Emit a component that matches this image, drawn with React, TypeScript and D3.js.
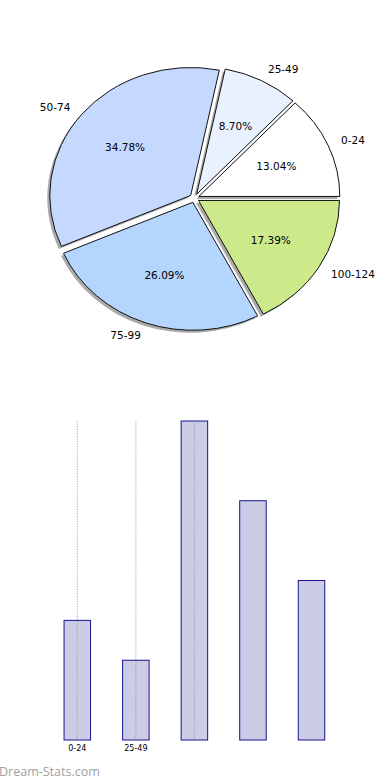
import React from 'react'
import * as d3 from 'd3'

// age groups and how many fall in each
const groups = ['0-24', '25-49', '50-74', '75-99', '100-124']
const counts = [3, 2, 8, 6, 4]
const sliceColors = ['#ffffff', '#eaf1fe', '#c5d9fe', '#b4d5fe', '#cdea8b']
const tickLabels = ['0-24', '25-49']
const gridCount = 3

const W = 390
const H = 780

const PieChart: React.FC = () => {
  const cx = 194.4
  const cy = 198.2
  const rx = 141
  const ry = 128
  const explode = 0.034
  const total = d3.sum(counts)

  // matplotlib-style: counter-clockwise from 3 o'clock
  const slices = d3.pie<number>().sort(null).startAngle(0).endAngle(2 * Math.PI)(counts)
  const arc = d3.arc<any>().innerRadius(0).outerRadius(1)

  const items = slices.map((s, i) => {
    const t1 = s.startAngle
    const t2 = s.endAngle
    const mid = (t1 + t2) / 2
    const vx = cx + explode * rx * Math.cos(mid)
    const vy = cy - explode * ry * Math.sin(mid)
    const d = arc({ startAngle: Math.PI / 2 - t2, endAngle: Math.PI / 2 - t1 }) as string
    return {
      i,
      d,
      vx,
      vy,
      px: vx + 0.6 * rx * Math.cos(mid),
      py: vy - 0.6 * ry * Math.sin(mid),
      lx: vx + 1.1 * rx * Math.cos(mid),
      ly: vy - 1.1 * ry * Math.sin(mid),
      anchor: Math.cos(mid) >= 0 ? 'start' : 'end',
      pct: ((counts[i] / total) * 100).toFixed(2) + '%',
    }
  })

  return (
    <g>
      {items.map((it) => (
        <path
          key={'sh' + it.i}
          d={it.d}
          transform={`translate(${it.vx - 2.5},${it.vy + 2.5}) scale(${rx},${ry})`}
          fill="#555"
          opacity={0.5}
        />
      ))}
      {items.map((it) => (
        <path
          key={'w' + it.i}
          d={it.d}
          transform={`translate(${it.vx},${it.vy}) scale(${rx},${ry})`}
          fill={sliceColors[it.i]}
          stroke="#111"
          strokeWidth={1}
          vectorEffect="non-scaling-stroke"
          strokeLinejoin="round"
        />
      ))}
      {items.map((it) => (
        <text
          key={'p' + it.i}
          x={it.px}
          y={it.py}
          textAnchor="middle"
          dominantBaseline="central"
          fontSize={10.5}
          fontFamily="DejaVu Sans"
          fill="#000"
        >
          {it.pct}
        </text>
      ))}
      {items.map((it) => (
        <text
          key={'l' + it.i}
          x={it.lx}
          y={it.ly}
          textAnchor={it.anchor}
          dominantBaseline="central"
          fontSize={10.5}
          fontFamily="DejaVu Sans"
          fill="#000"
        >
          {groups[it.i]}
        </text>
      ))}
    </g>
  )
}

const BarChart: React.FC = () => {
  const x = d3.scalePoint<string>().domain(groups).range([77.3, 311.5])
  const y = d3.scaleLinear().domain([0, 8]).range([740, 421])
  const bw = 26.5

  return (
    <g>
      {groups.map((g, i) => (
        <rect
          key={g}
          x={(x(g) as number) - bw / 2}
          y={y(counts[i])}
          width={bw}
          height={y(0) - y(counts[i])}
          fill="#ccccE6"
          stroke="#14148f"
          strokeWidth={1}
        />
      ))}
      {groups.slice(0, gridCount).map((g) => (
        <line
          key={'g' + g}
          x1={x(g)}
          x2={x(g)}
          y1={y(8)}
          y2={y(0)}
          stroke="#8c8c9c"
          strokeOpacity={0.6}
          strokeWidth={1.2}
          strokeDasharray="1.2,1.3"
        />
      ))}
      {tickLabels.map((t) => (
        <text
          key={'t' + t}
          x={x(t)}
          y={y(0) + 8.5}
          textAnchor="middle"
          dominantBaseline="central"
          fontSize={8}
          fontFamily="DejaVu Sans"
          fill="#000"
        >
          {t}
        </text>
      ))}
    </g>
  )
}

export default function App() {
  return (
    <svg
      width={W}
      height={H}
      style={{ position: 'absolute', left: 0, top: 0, background: '#fff' }}
    >
      <PieChart />
      <BarChart />
      <text x={-1} y={771} dominantBaseline="central" fontSize={12.5} fontFamily="Open Sans" fill="#a0a0a0">
        Dream-Stats.com
      </text>
    </svg>
  )
}
